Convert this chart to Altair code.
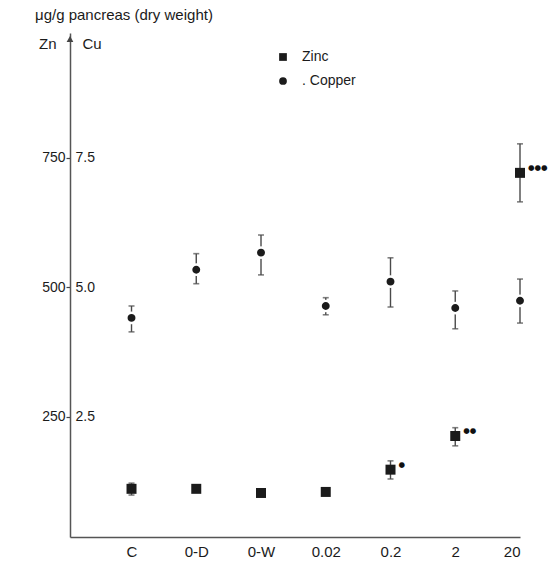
import altair as alt
import pandas as pd

categories = ["C", "0-D", "0-W", "0.02", "0.2", "2", "20"]
zn_mean = [111, 111, 103, 105, 148, 213, 721]
zn_hi = [122, 116, 108, 110, 165, 229, 777]
zn_lo = [99, 106, 98, 100, 130, 194, 665]
zn_sig = ["", "", "", "", "●", "●●", "●●●"]
cu_mean = [4.41, 5.34, 5.67, 4.64, 5.11, 4.60, 4.74]
cu_hi = [4.64, 5.65, 6.01, 4.80, 5.57, 4.93, 5.16]
cu_lo = [4.14, 5.07, 5.24, 4.47, 4.62, 4.20, 4.31]
zn_ticks = [250, 500, 750]
cu_ticks = [2.5, 5.0, 7.5]

FONT = "Liberation Sans"
INK = "#1b1b1b"
GREY = "#4a4a4a"

zn = pd.DataFrame({"idx": range(len(categories)), "cat": categories, "mean": zn_mean,
                   "hi": zn_hi, "lo": zn_lo, "sig": zn_sig, "series": "Zinc"})
cu = pd.DataFrame({"idx": range(len(categories)), "cat": categories, "mean": cu_mean,
                   "hi": cu_hi, "lo": cu_lo, "series": "Copper"})

label_arr = "[" + ",".join("'" + c + "'" for c in categories) + "]"
x_enc = alt.X("idx:Q",
              scale=alt.Scale(domain=[-0.95, 6.0], nice=False, zero=False),
              axis=alt.Axis(values=list(range(len(categories))), labelExpr=label_arr + "[datum.value]",
                            title=None, ticks=False, grid=False, domainColor="#555", domainWidth=1.5,
                            labelFontSize=15, labelFont=FONT, labelColor=INK, labelPadding=7))

shape_scale = alt.Scale(domain=["Zinc", "Copper"], range=["square", "circle"])
legend = alt.Legend(title=None, orient="none", legendX=206, legendY=17, labelFont=FONT,
                    labelFontSize=14, labelColor=INK, symbolSize=60, symbolFillColor=INK,
                    symbolStrokeWidth=0, rowPadding=10, labelOffset=12,
                    labelExpr="datum.label == 'Copper' ? '. Copper' : datum.label")

zn_y = alt.Scale(domain=[18, 991], nice=False, zero=False)
zn_axis = alt.Axis(values=zn_ticks, grid=False, tickSize=4, tickColor="#444", tickWidth=1.2,
                   domainColor="#555", domainWidth=1.5, labelFont=FONT, labelFontSize=14,
                   labelColor=INK, labelPadding=1, title="Zn", titleAngle=0, titleX=-14, titleY=10,
                   titleAlign="right", titleBaseline="middle", titleFont=FONT, titleFontSize=15,
                   titleFontWeight="normal", titleColor=INK, orient="left")

zn_base = alt.Chart(zn).encode(x=x_enc)
zn_rule = zn_base.mark_rule(color=GREY, strokeWidth=1.4).encode(
    y=alt.Y("lo:Q", scale=zn_y, axis=zn_axis), y2="hi:Q")
zn_cap_hi = zn_base.mark_tick(color=GREY, thickness=1.6, size=6, orient="horizontal").encode(y=alt.Y("hi:Q", scale=zn_y))
zn_cap_lo = zn_base.mark_tick(color=GREY, thickness=1.6, size=6, orient="horizontal").encode(y=alt.Y("lo:Q", scale=zn_y))
zn_pts = zn_base.mark_point(filled=True, size=100, color=INK, opacity=1).encode(
    y=alt.Y("mean:Q", scale=zn_y),
    shape=alt.Shape("series:N", scale=shape_scale, legend=legend))
zn_txt = zn_base.mark_text(align="left", baseline="middle", dx=8, dy=-5, font="DejaVu Sans",
                           fontSize=7.5, color="#111").encode(y=alt.Y("mean:Q", scale=zn_y), text="sig:N")
arrow = alt.Chart(pd.DataFrame({"a": [0]})).mark_point(
    shape="triangle-up", filled=True, size=45, color="#444", opacity=1).encode(
    x=alt.value(0), y=alt.value(6))

zn_layer = alt.layer(zn_rule, zn_cap_hi, zn_cap_lo, zn_pts, zn_txt, arrow)

cu_y = alt.Scale(domain=[0.18, 9.91], nice=False, zero=False)
cu_axis = alt.Axis(values=cu_ticks, format=".1f", grid=False, ticks=False, domain=False,
                   labelFont=FONT, labelFontSize=14, labelColor=INK, labelAlign="left",
                   labelPadding=-5, title="Cu", titleAngle=0, titleX=12, titleY=10,
                   titleAlign="left", titleBaseline="middle", titleFont=FONT, titleFontSize=15,
                   titleFontWeight="normal", titleColor=INK, orient="left")
cu_base = alt.Chart(cu).encode(x=x_enc)
cu_rule = cu_base.mark_rule(color=GREY, strokeWidth=1.4).encode(
    y=alt.Y("lo:Q", scale=cu_y, axis=cu_axis), y2="hi:Q")
cu_cap_hi = cu_base.mark_tick(color=GREY, thickness=1.6, size=6, orient="horizontal").encode(y=alt.Y("hi:Q", scale=cu_y))
cu_cap_lo = cu_base.mark_tick(color=GREY, thickness=1.6, size=6, orient="horizontal").encode(y=alt.Y("lo:Q", scale=cu_y))
cu_pts = cu_base.mark_point(filled=True, size=106, color=INK, stroke="white", strokeWidth=2.4, opacity=1).encode(
    y=alt.Y("mean:Q", scale=cu_y),
    shape=alt.Shape("series:N", scale=shape_scale, legend=legend))
cu_layer = alt.layer(cu_rule, cu_cap_hi, cu_cap_lo, cu_pts)

chart = alt.layer(zn_layer, cu_layer).resolve_scale(y="independent").properties(
    width=450, height=504,
    autosize=alt.AutoSizeParams(type="none"),
    padding={"left": 70, "top": 33, "right": 36, "bottom": 29},
    background="white",
    title=alt.TitleParams("μg/g pancreas (dry weight)", anchor="start", frame="group", dx=-35, offset=10,
                          font=FONT, fontSize=15, fontWeight="normal", color=INK),
).configure_view(stroke=None)

chart.save("out.html", embed_options={"renderer": "svg", "actions": False})
